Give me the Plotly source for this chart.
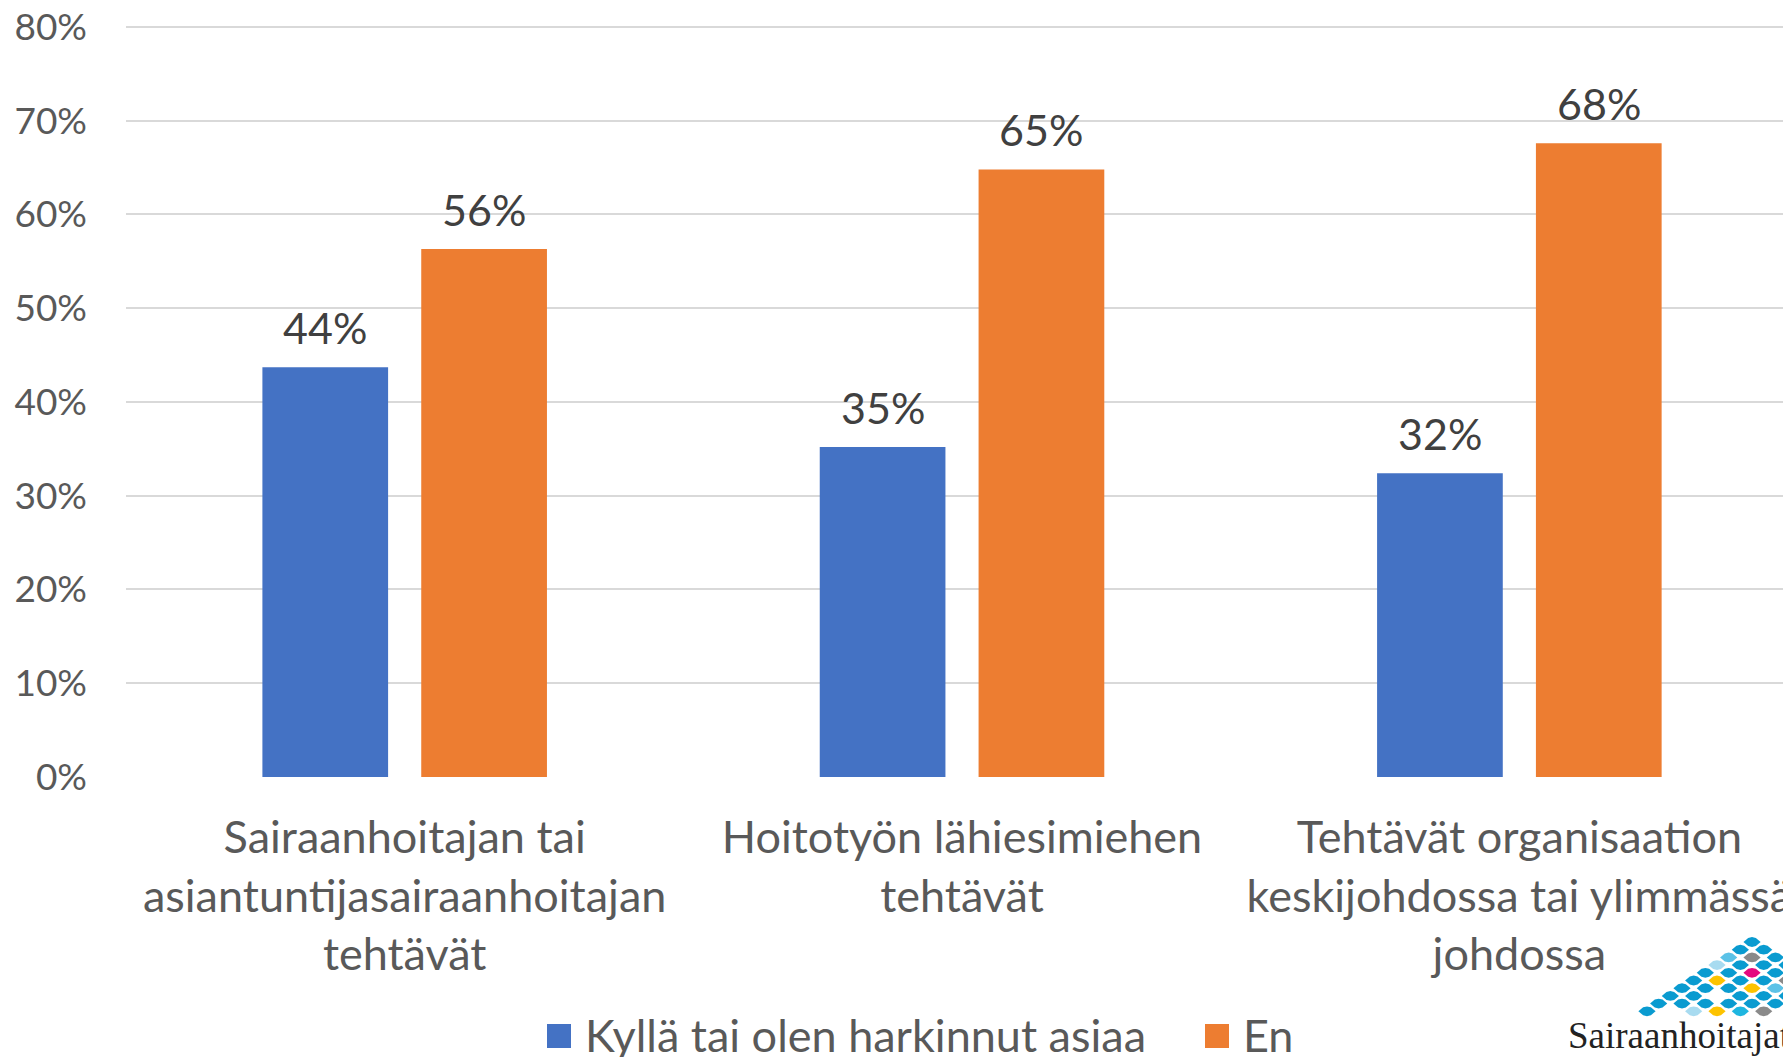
import plotly.graph_objects as go

# ---- data ----
categories = ["Sairaanhoitajan tai asiantuntijasairaanhoitajan tehtävät",
              "Hoitotyön lähiesimiehen tehtävät",
              "Tehtävät organisaation keskijohdossa tai ylimmässä johdossa"]
tick_labels = ["Sairaanhoitajan tai<br>asiantuntijasairaanhoitajan<br>tehtävät",
               "Hoitotyön lähiesimiehen<br>tehtävät",
               "Tehtävät organisaation<br>keskijohdossa tai ylimmässä<br>johdossa"]
series_names = ["Kyllä tai olen harkinnut asiaa", "En"]
yes_values = [43.7, 35.2, 32.4]
no_values = [56.3, 64.8, 67.6]
y_ticks = [0, 10, 20, 30, 40, 50, 60, 70, 80]
y_tick_labels = ["0%", "10%", "20%", "30%", "40%", "50%", "60%", "70%", "80%"]

# ---- style ----
OFF = 8                      # page body margin offset
W, H = 1791 - OFF, 1057 - OFF
ML, MR, MT, MB = 126 - OFF, 0, 17, 1057 - 777
YMAX = 80.2
BLUE, ORANGE = "#4472C4", "#ED7D31"
FONT = "Lato"
TXT = "#595959"
BARGAP, GROUPGAP = 0.43, 0.2086
slot = (1 - BARGAP) / 2

pw = W - ML - MR
ph = H - MT - MB
def px2paper(x, y):
    """screen pixel -> paper coordinates"""
    return (x - OFF - ML) / pw, (H - MB - (y - OFF)) / ph

fig = go.Figure()
annotations = []
for si, (name, vals, col) in enumerate([(series_names[0], yes_values, BLUE),
                                        (series_names[1], no_values, ORANGE)]):
    fig.add_trace(go.Bar(x=categories, y=vals, name=name, marker_color=col,
                         marker_line_width=0, showlegend=False))
    off = (si - 0.5) * slot
    for ci, v in enumerate(vals):
        annotations.append(dict(x=ci + off, y=v, xref="x", yref="y", text=f"{v:.0f}%",
                                showarrow=False, yanchor="bottom", yshift=12,
                                font=dict(family=FONT, size=43, color="#404040")))

# ---- legend (large square swatches) ----
legend_items = [(series_names[0], BLUE, 547), (series_names[1], ORANGE, 1205)]
shapes = []
for name, col, sx in legend_items:
    x0, y0 = px2paper(sx, 1024)
    x1, y1 = px2paper(sx + 24, 1048)
    shapes.append(dict(type="rect", xref="paper", yref="paper", x0=x0, x1=x1, y0=y0, y1=y1,
                       fillcolor=col, line=dict(width=0)))
    tx, ty = px2paper(sx + 36, 1035)
    annotations.append(dict(text=name, xref="paper", yref="paper", x=tx, y=ty,
                            xanchor="left", yanchor="middle", showarrow=False,
                            font=dict(family=FONT, size=45, color=TXT)))

# ---- decorative logo (bottom right) ----
logo_rows = [
    [(9, "b")],
    [(8, "b"), (10, "b")],
    [(7, "l"), (9, "g"), (11, "b")],
    [(6, "v"), (8, "b"), (10, "b"), (12, "b")],
    [(5, "b"), (7, "b"), (9, "m"), (11, "b")],
    [(4, "b"), (6, "y"), (8, "b"), (10, "b"), (12, "g")],
    [(3, "b"), (5, "b"), (7, "b"), (9, "y"), (11, "l")],
    [(2, "b"), (4, "b"), (8, "b"), (10, "b"), (12, "b")],
    [(1, "b"), (3, "b"), (5, "b"), (7, "b"), (9, "b"), (11, "b")],
    [(0, "b"), (4, "v"), (6, "y"), (8, "c"), (10, "g")],
]
logo_cols = {"b": "#0A9BD0", "l": "#5BC2E7", "v": "#A8DBF0", "g": "#8A8A8A",
             "m": "#E5097F", "y": "#FDC300", "c": "#1EB6E0"}
a, b = 8.6, 4.9
shape_pts = [(-a, 0), (-a * 0.45, -b * 0.82), (0, -b), (a * 0.45, -b * 0.82),
             (a, 0), (a * 0.45, b * 0.82), (0, b), (-a * 0.45, b * 0.82)]
for r, row in enumerate(logo_rows):
    cy = 942 + r * 7.7
    for k, c in row:
        cx = 1647 + k * 11.67
        pts = [px2paper(cx + dx, cy + dy) for dx, dy in shape_pts]
        path = "M" + " L".join(f"{p:.5f},{q:.5f}" for p, q in pts) + " Z"
        shapes.append(dict(type="path", xref="paper", yref="paper", path=path,
                           fillcolor=logo_cols[c], line=dict(width=0), layer="above"))

lx, ly = px2paper(1566, 1035)
annotations.append(dict(text="Sairaanhoitajat", xref="paper", yref="paper", x=lx, y=ly,
                        xanchor="left", yanchor="middle", showarrow=False,
                        font=dict(family="Liberation Serif", size=37, color="#222222")))

fig.update_layout(
    width=W, height=H,
    margin=dict(l=ML, r=MR, t=MT, b=MB, autoexpand=False),
    paper_bgcolor="white", plot_bgcolor="white",
    barmode="group", bargap=BARGAP, bargroupgap=GROUPGAP,
    font=dict(family=FONT, color=TXT),
    shapes=shapes, annotations=annotations, showlegend=False,
)
fig.update_xaxes(type="category", tickvals=categories, ticktext=tick_labels,
                 range=[-0.5, 2.4874], showgrid=False, showline=False, zeroline=False,
                 tickfont=dict(family=FONT, size=45, color=TXT), ticks="",
                 ticklabelstandoff=30, ticklabeloverflow="allow")
fig.update_yaxes(range=[0, YMAX], tickvals=y_ticks, ticktext=y_tick_labels,
                 showgrid=True, gridcolor="#D9D9D9", gridwidth=1.5,
                 zeroline=False, showline=False,
                 tickfont=dict(family=FONT, size=37, color=TXT), ticks="",
                 ticklabelstandoff=38, ticklabeloverflow="allow")

fig.write_html("out.html")
